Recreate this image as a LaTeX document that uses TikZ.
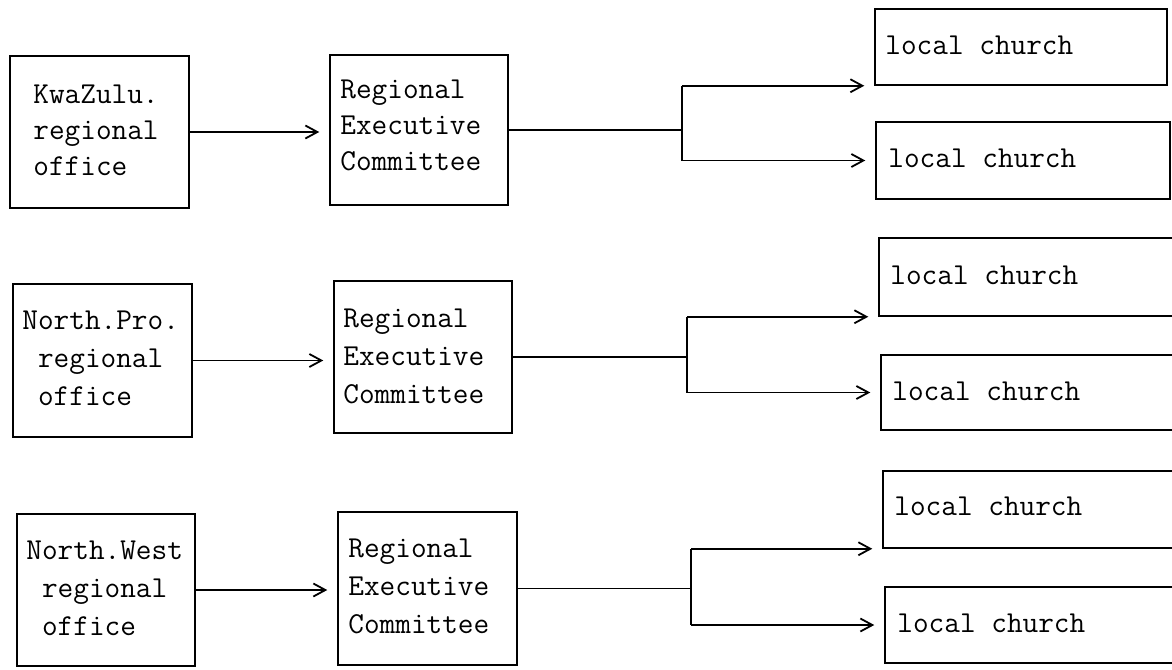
\documentclass[tikz,border=0pt]{standalone}
\usepackage{fontspec}
\usetikzlibrary{arrows.meta,fit}

\begin{document}
\begin{tikzpicture}[x=0.5pt,y=-0.5pt,
    frame/.style={draw, line width=0.75pt, inner sep=0pt, fit={#1}},
    words/.style={anchor=west, inner sep=0pt, align=left,
      font=\ttfamily\fontsize{15.2}{#1}\selectfont},
    words/.default=18.5,
    wire/.style={line width=0.75pt},
    feed/.style={wire, -{Straight Barb[length=6pt,width=6.5pt,line width=0.9pt]},
      shorten >=5pt}]

  \useasboundingbox (0,0) rectangle (1172,669);
  \clip (0,0) rectangle (1172,669);

  % ---- KwaZulu ----
  \node[frame={(10,56) (189,208)}] (k1) {};
  \node[words=18] (k1t) at (33,132) {\strut KwaZulu.\\regional\\office\strut};
  \node[frame={(330,55) (508,205)}] (r1) {};
  \node[words=18] (r1t) at (340,127) {\strut Regional\\Executive\\Committee\strut};
  \node[frame={(875,9) (1167,85)}] (c1) {};
  \node[words] (c1t) at (885,47) {\strut local church};
  \node[frame={(876,122) (1170,199)}] (c2) {};
  \node[words] (c2t) at (888,160) {\strut local church};
  \coordinate (j1) at (682,126);

  % ---- North.Pro. ----
  \node[frame={(13,284) (192,437)}] (k2) {};
  \node[words=19] (k2t) at (22,360) {\strut North.Pro.\\\hphantom{N}regional\\\hphantom{N}office\strut};
  \node[frame={(334,281) (512,433)}] (r2) {};
  \node[words=19] (r2t) at (343,358) {\strut Regional\\Executive\\Committee\strut};
  \node[frame={(879,238) (1180,316)}] (c3) {};
  \node[words] (c3t) at (890,277) {\strut local church};
  \node[frame={(881,355) (1180,430)}] (c4) {};
  \node[words] (c4t) at (892,393) {\strut local church};
  \coordinate (j2) at (687,357);

  % ---- North.West ----
  \node[frame={(17,514) (195,666)}] (k3) {};
  \node[words=19] (k3t) at (26,590) {\strut North.West\\\hphantom{N}regional\\\hphantom{N}office\strut};
  \node[frame={(338,512) (517,665)}] (r3) {};
  \node[words=19] (r3t) at (348,588) {\strut Regional\\Executive\\Committee\strut};
  \node[frame={(883,471) (1180,548)}] (c5) {};
  \node[words] (c5t) at (894,508) {\strut local church};
  \node[frame={(885,587) (1180,663)}] (c6) {};
  \node[words] (c6t) at (897,625) {\strut local church};
  \coordinate (j3) at (691,588);

  % ---- connectors ----
  \foreach \k/\r/\j/\a/\b in {k1/r1/j1/c1/c2, k2/r2/j2/c3/c4, k3/r3/j3/c5/c6} {
    \draw[feed] (\k.east) -- (\k.east -| \r.west);
    \draw[wire] (\r.east) -- (\r.east -| \j);
    \draw[wire] (\a.south west -| \j) -- (\b.west -| \j);
    \draw[feed] (\a.south west -| \j) -- (\a.south west);
    \draw[feed] (\b.west -| \j) -- (\b.west);
  }
\end{tikzpicture}
\end{document}
